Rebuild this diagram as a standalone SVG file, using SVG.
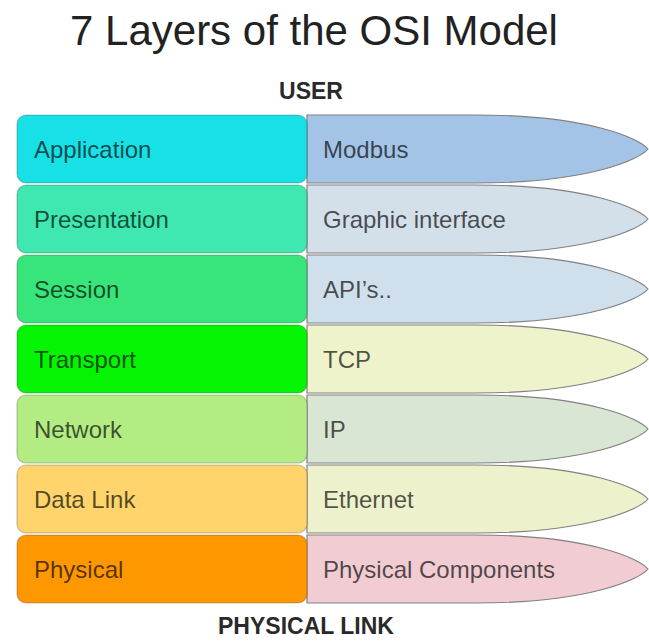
<svg xmlns="http://www.w3.org/2000/svg" width="649" height="641" viewBox="0 0 649 641">
<style>
.t{font-family:"Liberation Sans",Arial,sans-serif;font-size:24px;fill:#000;fill-opacity:0.68}
.h{font-family:"Liberation Sans",Arial,sans-serif;font-weight:bold;font-size:23px;fill:#2a2a2a;text-anchor:middle}
.box{stroke:#000;stroke-opacity:0.22;stroke-width:1.2}
.pill{stroke:#808080;stroke-width:1.2}
</style>
<defs>
<path id="pill" d="M307,0 H475 C590,0 640,24 648,34 C640,44 590,68 475,68 H307 Z"/>
</defs>
<rect width="649" height="641" fill="#fff"/>
<text x="314" y="45" font-family="'Liberation Sans',Arial,sans-serif" font-size="42" fill="#222" text-anchor="middle">7 Layers of the OSI Model</text>
<text class="h" x="311" y="99">USER</text>
<g id="connectors"></g>
<g id="right-layers">
<g id="modbus"><use href="#pill" y="115" class="pill" fill="#a3c4e6"/><text class="t" x="323" y="158">Modbus</text></g>
<g id="graphic"><use href="#pill" y="185" class="pill" fill="#d3dfe9"/><text class="t" x="323" y="228">Graphic interface</text></g>
<g id="api"><use href="#pill" y="255" class="pill" fill="#d0dfec"/><text class="t" x="323" y="298">API’s..</text></g>
<g id="tcp"><use href="#pill" y="325" class="pill" fill="#eef3cb"/><text class="t" x="323" y="368">TCP</text></g>
<g id="ip"><use href="#pill" y="395" class="pill" fill="#d8e6d3"/><text class="t" x="323" y="438">IP</text></g>
<g id="ethernet"><use href="#pill" y="465" class="pill" fill="#edf2cd"/><text class="t" x="323" y="508">Ethernet</text></g>
<g id="physcomp"><use href="#pill" y="535" class="pill" fill="#f1ccd3"/><text class="t" x="323" y="578">Physical Components</text></g>
</g>
<g id="left-layers">
<g id="application"><rect class="box" x="17" y="115" width="290" height="68" rx="9" fill="#17e0e6"/><text class="t" x="34" y="158">Application</text></g>
<g id="presentation"><rect class="box" x="17" y="185" width="290" height="68" rx="9" fill="#3ee8b0"/><text class="t" x="34" y="228">Presentation</text></g>
<g id="session"><rect class="box" x="17" y="255" width="290" height="68" rx="9" fill="#38e57a"/><text class="t" x="34" y="298">Session</text></g>
<g id="transport"><rect class="box" x="17" y="325" width="290" height="68" rx="9" fill="#04f404"/><text class="t" x="34" y="368">Transport</text></g>
<g id="network"><rect class="box" x="17" y="395" width="290" height="68" rx="9" fill="#b4ec84"/><text class="t" x="34" y="438">Network</text></g>
<g id="datalink"><rect class="box" x="17" y="465" width="290" height="68" rx="9" fill="#ffd46c"/><text class="t" x="34" y="508">Data Link</text></g>
<g id="physical"><rect class="box" x="17" y="535" width="290" height="68" rx="9" fill="#ff9800"/><text class="t" x="34" y="578">Physical</text></g>
</g>
<text class="h" x="306" y="634">PHYSICAL LINK</text>
</svg>
